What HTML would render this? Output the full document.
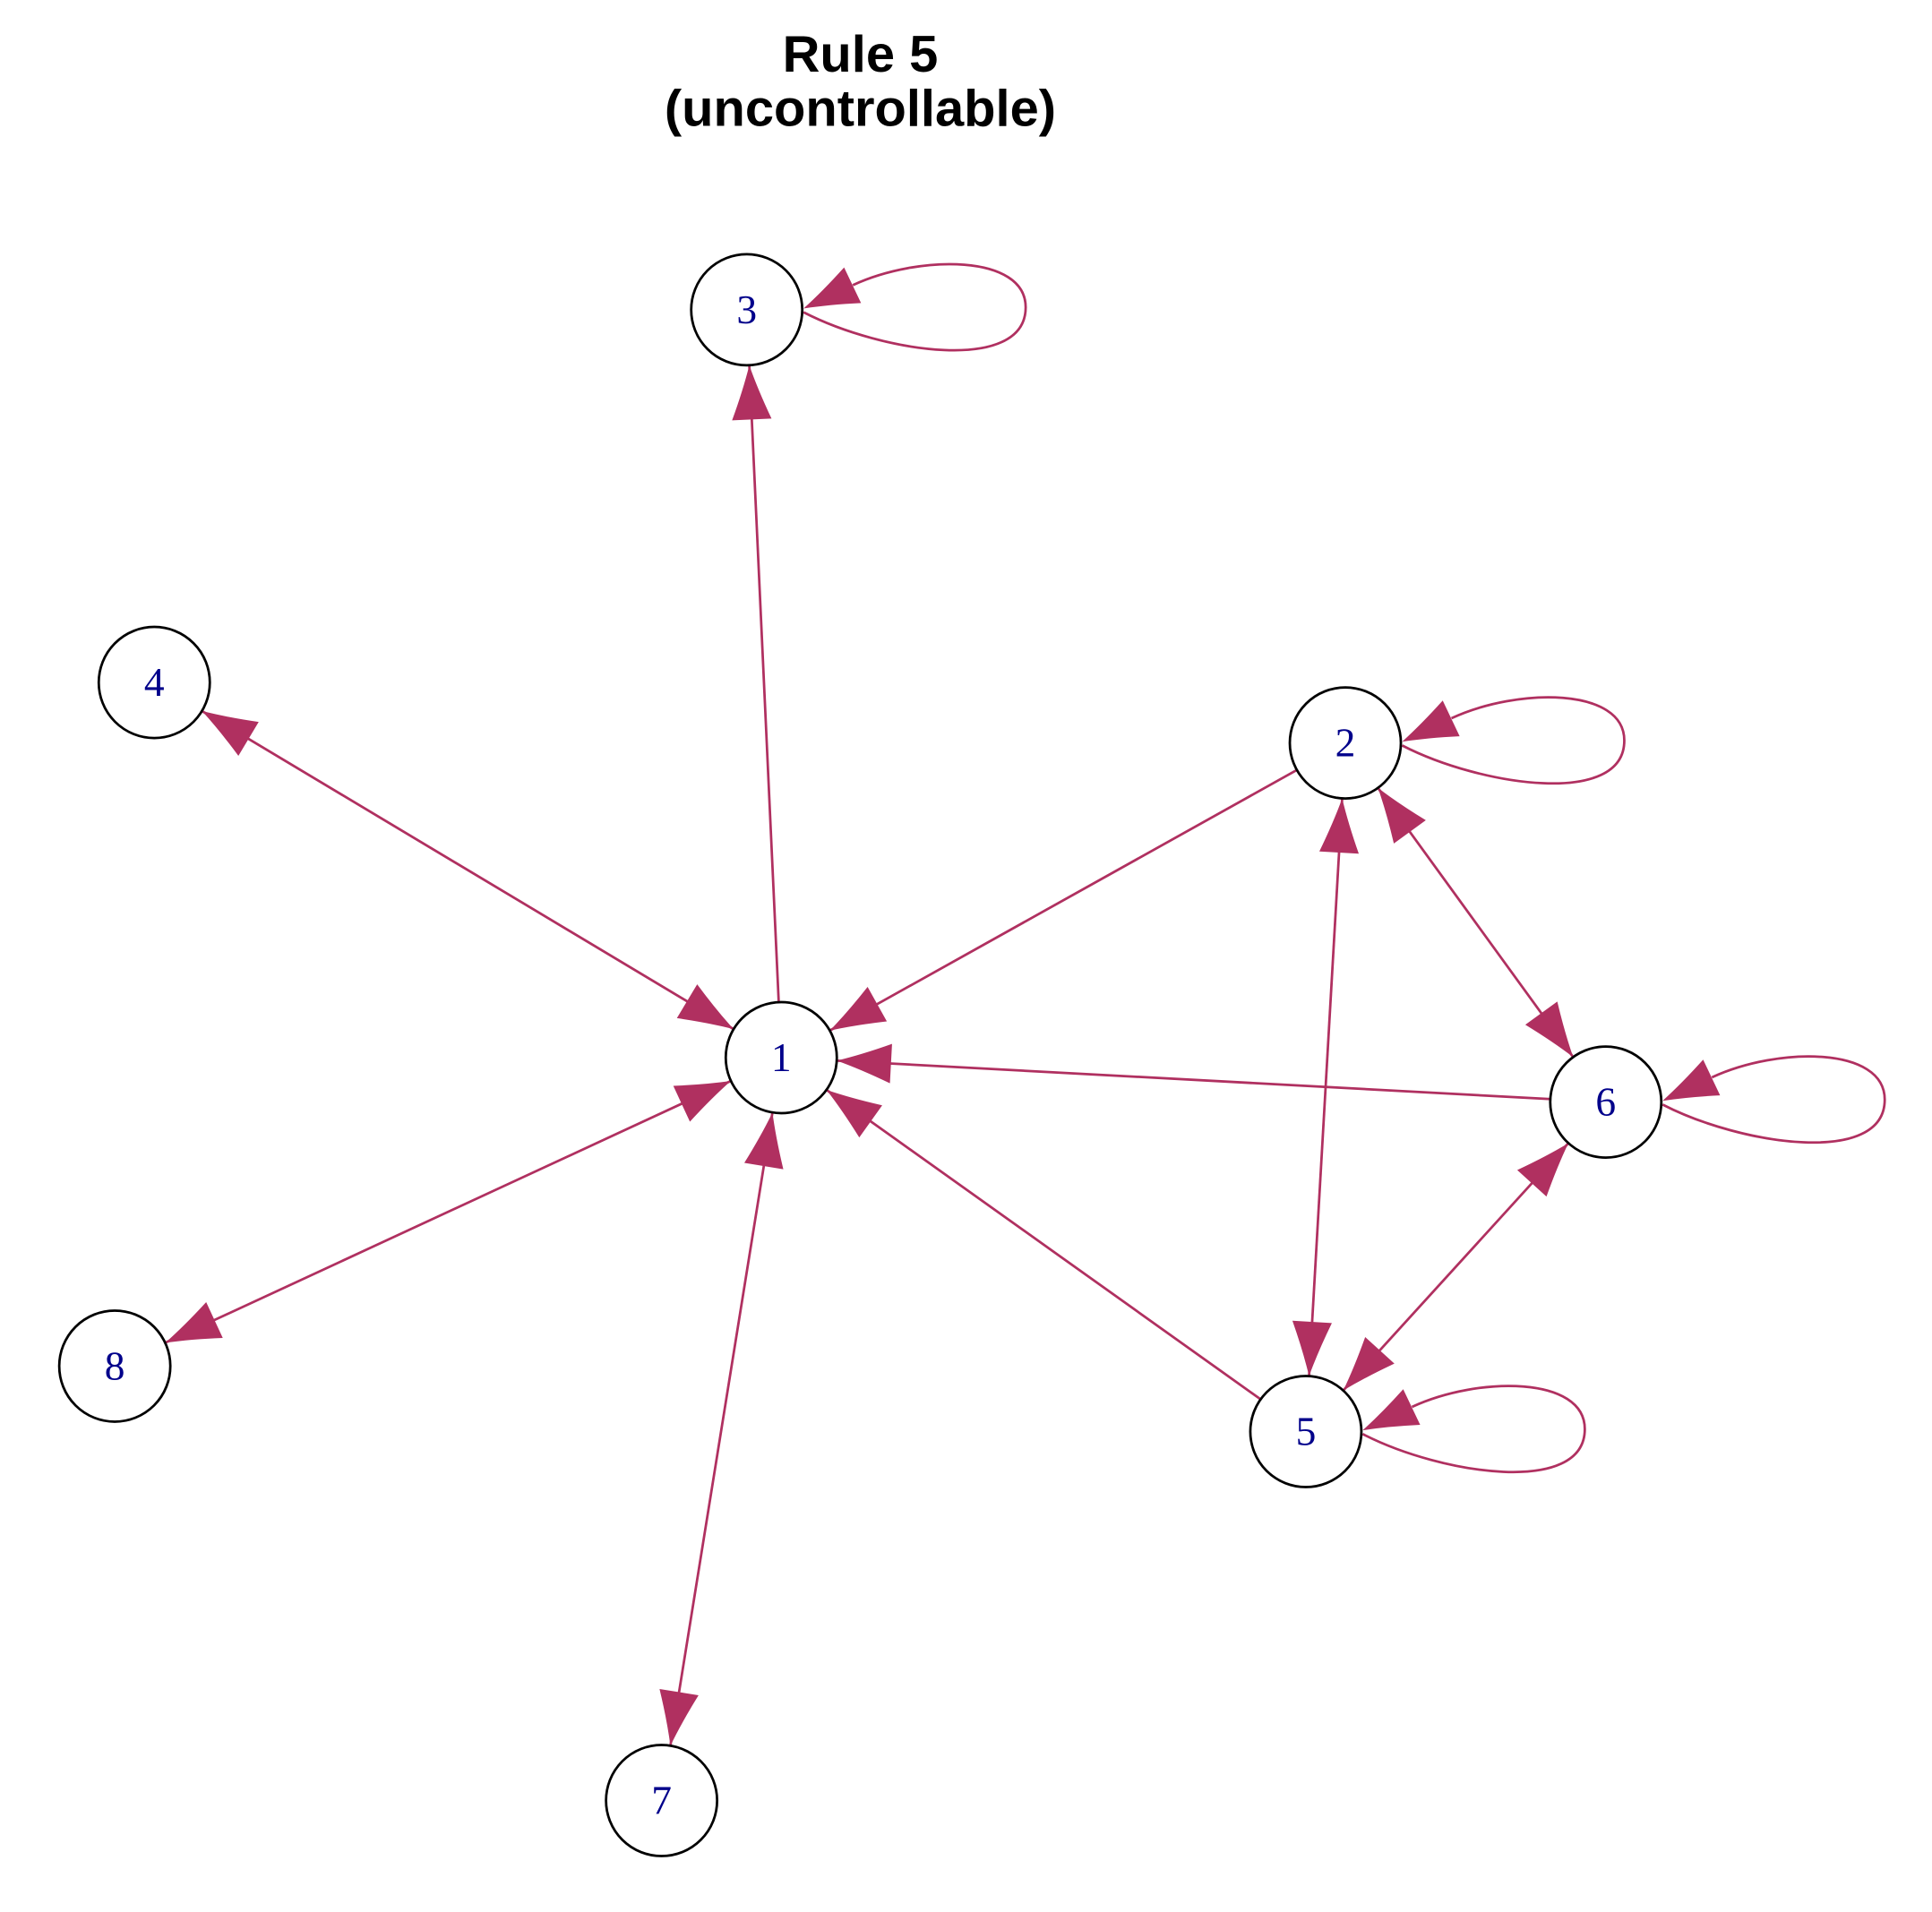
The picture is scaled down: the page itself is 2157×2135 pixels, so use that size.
<!DOCTYPE html>
<html><head><meta charset="utf-8"><style>html,body{margin:0;padding:0;background:#fff}svg{display:block}</style></head>
<body>
<svg id="s" width="2157" height="2135" viewBox="0 0 1565.3 1549.3" xmlns="http://www.w3.org/2000/svg">
<rect width="1565.3" height="1549.3" fill="#fff"/>
<text x="697" y="58" text-anchor="middle" font-family="Liberation Sans, sans-serif" font-weight="bold" font-size="42">Rule 5</text>
<text x="697" y="102" text-anchor="middle" font-family="Liberation Sans, sans-serif" font-weight="bold" font-size="42">(uncontrollable)</text>
<g id="edges"></g>
<g id="nodes"></g>
</svg>
<script>
var N={1:[633,857],2:[1090,602],3:[605,251],4:[125,553],5:[1058,1160],6:[1301,893],7:[536,1459],8:[93,1107]};
var R=45,C="#b03060";
var E=document.getElementById('edges'),G=document.getElementById('nodes');
var ns="http://www.w3.org/2000/svg";
function el(p,t,a){var e=document.createElementNS(ns,t);for(var k in a)e.setAttribute(k,a[k]);p.appendChild(e);return e;}
function arrow(tx,ty,ang){
 el(E,'path',{d:"M0,0 Q-20,6 -44,16 L-44,-16 Q-20,-6 0,0Z",fill:C,transform:"translate("+tx+","+ty+") rotate("+(ang*180/Math.PI)+")"});
}
var edges=[[1,3,0,1],[1,4,1,1],[1,8,1,1],[1,7,1,1],[2,1,0,1],[6,1,0,1],[5,1,0,1],[2,5,1,1],[2,6,1,1],[6,5,1,1]];
edges.forEach(function(e){
 var a=N[e[0]],b=N[e[1]];var dx=b[0]-a[0],dy=b[1]-a[1],L=Math.hypot(dx,dy),ux=dx/L,uy=dy/L;
 var ax=a[0]+ux*R,ay=a[1]+uy*R,bx=b[0]-ux*R,by=b[1]-uy*R;
 el(E,'line',{x1:ax,y1:ay,x2:bx,y2:by,stroke:C,'stroke-width':2});
 var ang=Math.atan2(dy,dx);
 if(e[3])arrow(bx,by,ang);
 if(e[2])arrow(ax,ay,ang+Math.PI);
});
[3,2,6,5].forEach(function(n){
 var c=N[n],x=c[0],y=c[1];
 el(E,'path',{d:"M"+(x+46)+","+(y+2)+" C"+(x+110)+","+(y+35)+" "+(x+226)+","+(y+52)+" "+(x+226)+","+(y-2)+" C"+(x+226)+","+(y-45)+" "+(x+140)+","+(y-45)+" "+(x+86)+","+(y-20),fill:"none",stroke:C,'stroke-width':2});
 arrow(x+46,y-1,Math.atan2(-1-(-20),46-86));
});
for(var k in N){var c=N[k];
 el(G,'circle',{cx:c[0],cy:c[1],r:R,fill:"#fff",stroke:"#000","stroke-width":2});
 var t=el(G,'text',{x:c[0],y:c[1]+11,'text-anchor':'middle','font-family':'Liberation Serif, serif','font-size':33,fill:'#00008b'});t.textContent=k;}
</script>
</body></html>
